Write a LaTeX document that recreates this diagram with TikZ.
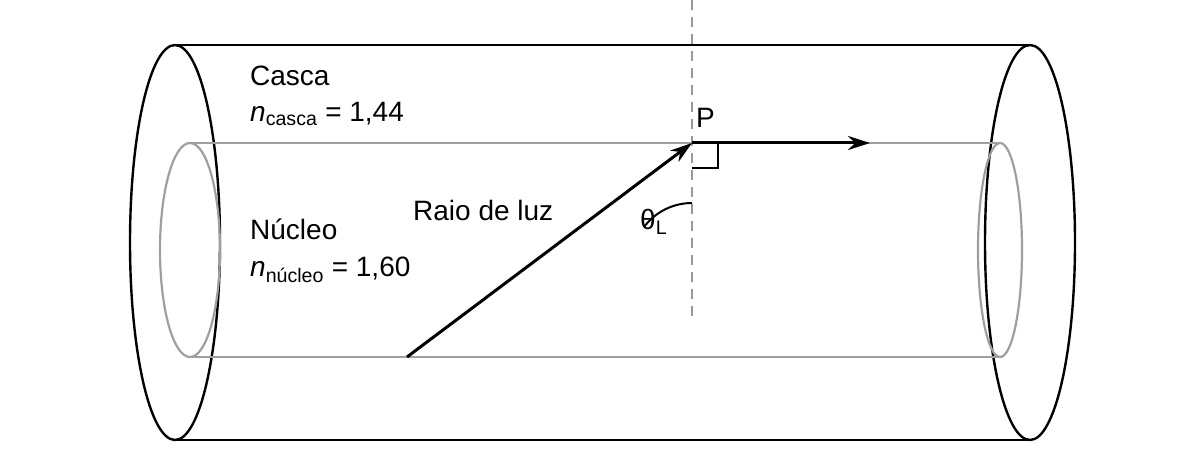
\documentclass[tikz,border=0pt]{standalone}
\usepackage{fontspec}
\setmainfont{Liberation Sans}
\usetikzlibrary{arrows.meta}
\tikzset{
  outer/.style = {draw=black, line width=2.4pt},
  inner/.style = {draw=gray!75, line width=2.2pt},
  ray/.style   = {-{Stealth[length=22pt,width=14pt]}, line width=3pt},
  lbl/.style   = {font=\fontsize{28}{32}\selectfont, anchor=west, inner sep=0pt},
}
\begin{document}
\begin{tikzpicture}[x=1pt,y=-1pt]
  \useasboundingbox (0,0) rectangle (1202,468);

  % outer cylinder
  \draw[outer] (175,45) -- (1030,45);
  \draw[outer] (175,440) -- (1030,440);
  \draw[outer] (175,242.5) ellipse [x radius=45, y radius=197.5];
  \draw[outer] (1030,242.5) ellipse [x radius=45, y radius=197.5];

  % inner core
  \draw[inner] (190,143) -- (1000,143);
  \draw[inner] (190,357) -- (1000,357);
  \draw[inner] (190,250) ellipse [x radius=30, y radius=107];
  \draw[inner] (1000,250) ellipse [x radius=22, y radius=107];

  % normal
  \coordinate (ntop) at (692,0);
  \coordinate (nbot) at (692,322);
  \draw[gray!80, line width=2.4pt, dash pattern=on 10pt off 7pt] (ntop) -- (nbot);

  % ray
  \coordinate (src) at (407,357);
  \coordinate (P) at (692,143);
  \coordinate (dst) at (870,143);
  \draw[ray] (src) -- (P);
  \draw[ray] (P) -- (dst);
  \draw[line width=2pt] (692,168) -- (718,168) -- (718,143);
  \draw[line width=2pt] (692,203) arc [start angle=-90, end angle=-143.2, radius=60];

  % labels
  \node[lbl] (casca) at (250,76) {Casca};
  \node[lbl] (ncasca) at (250,114) {\textit{n}\textsubscript{casca} = 1,44};
  \node[lbl] (nucleo) at (250,229) {Núcleo};
  \node[lbl] (nnucleo) at (250,270) {\textit{n}\textsubscript{núcleo} = 1,60};
  \node[lbl] (raio) at (413,210) {Raio de luz};
  \node[lbl] (theta) at (640,222) {θ\textsubscript{L}};
  \node[lbl] (p) at (696,118) {P};
\end{tikzpicture}
\end{document}
